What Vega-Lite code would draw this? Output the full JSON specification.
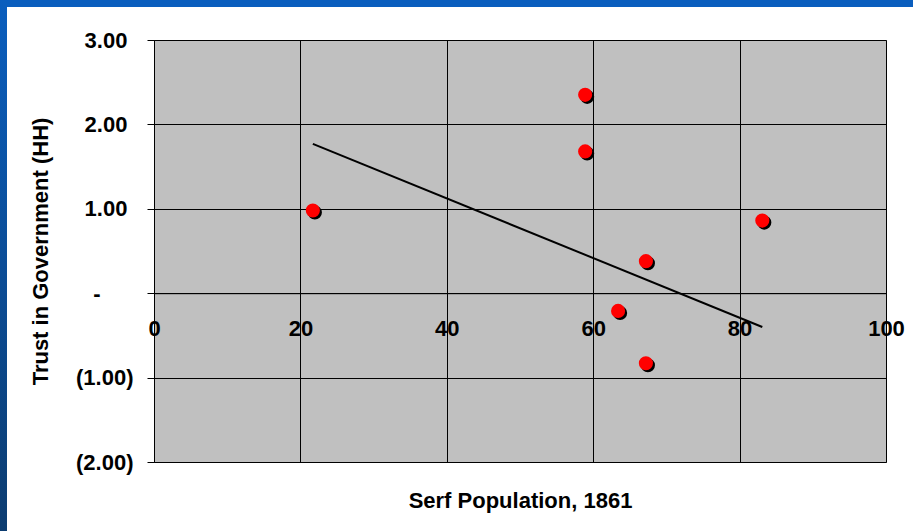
{
  "$schema": "https://vega.github.io/schema/vega-lite/v6.json",
  "padding": 0,
  "background": "white",
  "bounds": "flush",
  "spacing": 0,
  "datasets": {
    "points": [
      {"serf": 21.7, "trust": 0.98},
      {"serf": 58.9, "trust": 2.35},
      {"serf": 58.9, "trust": 1.68},
      {"serf": 67.2, "trust": 0.38},
      {"serf": 63.4, "trust": -0.21},
      {"serf": 67.2, "trust": -0.83},
      {"serf": 83.1, "trust": 0.86}
    ],
    "trend": [
      {"serf": 21.7, "trust": 1.77},
      {"serf": 83.1, "trust": -0.40}
    ],
    "frame": [{"part": "slide"}]
  },
  "hconcat": [
    {
      "width": 7,
      "height": 531,
      "view": {"stroke": null, "fill": null},
      "data": {"name": "frame"},
      "mark": {
        "type": "rect",
        "strokeWidth": 0,
        "fill": {
          "gradient": "linear",
          "x1": 0, "y1": 0, "x2": 0, "y2": 1,
          "stops": [
            {"offset": 0, "color": "#0a5ebe"},
            {"offset": 1, "color": "#0c3c70"}
          ]
        }
      },
      "encoding": {}
    },
    {
      "bounds": "flush",
      "spacing": 33,
      "vconcat": [
        {
          "width": 906,
          "height": 7,
          "view": {"stroke": null, "fill": null},
          "data": {"name": "frame"},
          "mark": {"type": "rect", "fill": "#0a5ebe", "strokeWidth": 0},
          "encoding": {}
        },
        {
          "bounds": "flush",
          "spacing": 146,
          "hconcat": [
            {
              "width": 1,
              "height": 1,
              "view": {"stroke": null, "fill": null},
              "data": {"name": "frame"},
              "mark": {"type": "rect", "fill": "white", "opacity": 0, "strokeWidth": 0},
              "encoding": {}
            },
            {
              "width": 732,
              "height": 422,
              "view": {"fill": "#c0c0c0", "stroke": "#808080", "strokeWidth": 1},
              "layer": [
                {
                  "data": {"name": "trend"},
                  "mark": {"type": "line", "color": "black", "strokeWidth": 2},
                  "encoding": {
                    "x": {"field": "serf", "type": "quantitative"},
                    "y": {"field": "trust", "type": "quantitative"}
                  }
                },
                {
                  "data": {"name": "points"},
                  "mark": {"type": "circle", "color": "black", "size": 200, "opacity": 1, "xOffset": 2, "yOffset": 2},
                  "encoding": {
                    "x": {"field": "serf", "type": "quantitative"},
                    "y": {"field": "trust", "type": "quantitative"}
                  }
                },
                {
                  "data": {"name": "points"},
                  "mark": {"type": "circle", "color": "#ff0000", "size": 200, "opacity": 1},
                  "encoding": {
                    "x": {
                      "field": "serf",
                      "type": "quantitative",
                      "scale": {"domain": [0, 100], "nice": false, "zero": false},
                      "axis": {
                        "title": "Serf Population, 1861",
                        "values": [0, 20, 40, 60, 80, 100],
                        "offset": -168.8,
                        "grid": true,
                        "gridColor": "black",
                        "gridOpacity": 1,
                        "gridWidth": 1,
                        "domainColor": "black",
                        "domainWidth": 1,
                        "tickColor": "black",
                        "tickSize": 7,
                        "labelPadding": 18,
                        "labelBaseline": "top",
                        "labelFlush": false,
                        "labelFont": "Liberation Sans",
                        "labelFontWeight": "bold",
                        "labelFontSize": 22,
                        "labelColor": "black",
                        "titleFont": "Liberation Sans",
                        "titleFontWeight": "bold",
                        "titleFontSize": 22,
                        "titleColor": "black",
                        "titlePadding": 151
                      }
                    },
                    "y": {
                      "field": "trust",
                      "type": "quantitative",
                      "scale": {"domain": [-2, 3], "nice": false, "zero": false},
                      "axis": {
                        "title": "Trust in Government (HH)",
                        "values": [-2, -1, 0, 1, 2, 3],
                        "labelExpr": "datum.value > 0 ? format(datum.value, '.2f') + '\u2008\u2060' : (datum.value < 0 ? '(' + format(-datum.value, '.2f') + ')' : '-\u2002\u2002\u2002\u2060')",
                        "grid": true,
                        "gridColor": "black",
                        "gridOpacity": 1,
                        "gridWidth": 1,
                        "domainColor": "black",
                        "domainWidth": 1,
                        "tickColor": "black",
                        "tickSize": 7,
                        "labelPadding": 14,
                        "labelFont": "Liberation Sans",
                        "labelFontWeight": "bold",
                        "labelFontSize": 22,
                        "labelColor": "black",
                        "titleFont": "Liberation Sans",
                        "titleFontWeight": "bold",
                        "titleFontSize": 22,
                        "titleColor": "black",
                        "titlePadding": 23
                      }
                    }
                  }
                }
              ]
            }
          ]
        }
      ]
    }
  ]
}
